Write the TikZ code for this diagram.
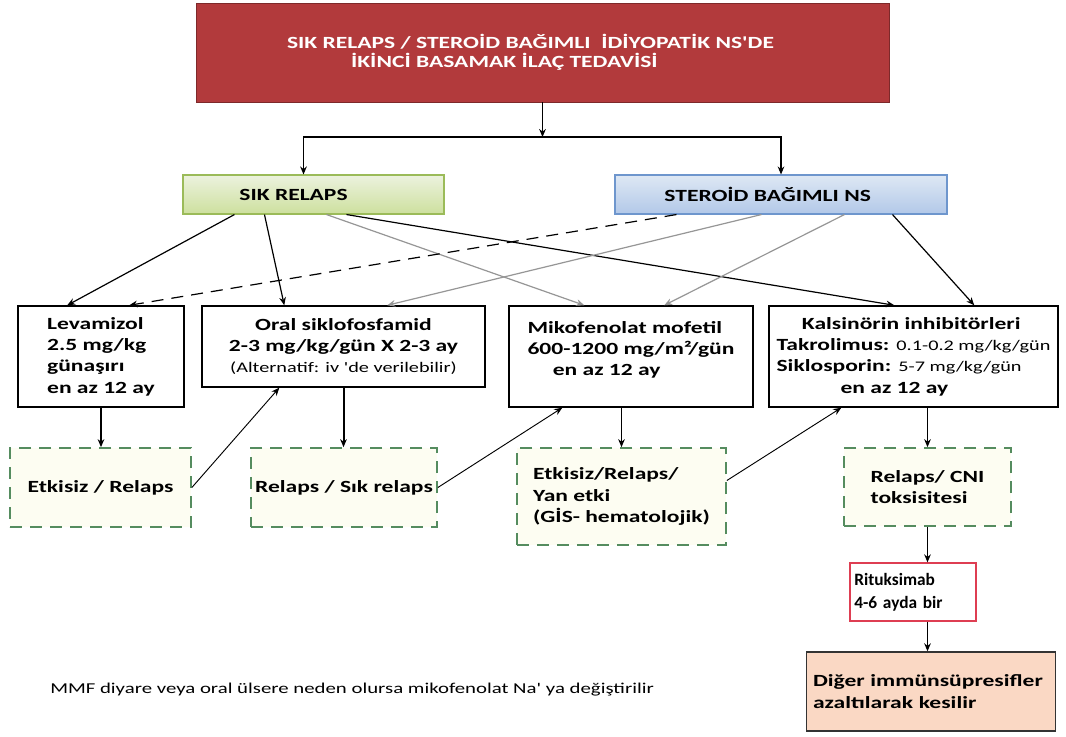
\documentclass[tikz,border=0pt]{standalone}
\usepackage{fontspec}
\setmainfont{Carlito}[FakeStretch=1.38, Ligatures=TeXOff]
\newfontfamily\rtxfam{Carlito}
\usetikzlibrary{arrows.meta, calc, positioning}
\definecolor{titlered}{RGB}{178,58,60}
\definecolor{srgreen}{RGB}{155,187,89}
\definecolor{srgreentop}{RGB}{236,242,222}
\definecolor{srgreenbot}{RGB}{205,224,158}
\definecolor{sdblue}{RGB}{110,150,205}
\definecolor{sdbluetop}{RGB}{222,232,244}
\definecolor{sdbluebot}{RGB}{178,200,232}
\definecolor{outgreen}{RGB}{85,140,95}
\definecolor{outfill}{RGB}{253,253,242}
\definecolor{rituxred}{RGB}{222,62,82}
\definecolor{digerfill}{RGB}{250,216,196}
\definecolor{linkgray}{RGB}{150,150,150}
\newcommand{\boxfont}{\fontsize{12.8}{16}\selectfont\bfseries}
\newcommand{\drugsmall}{\fontsize{11}{13}\selectfont\mdseries}
\newcommand{\notefont}{\fontsize{11.3}{13}\selectfont}
\newcommand{\rtxfont}{\rtxfam\fontsize{13}{17}\selectfont\bfseries}

\begin{document}
\begin{tikzpicture}[x=0.75pt, y=-0.75pt,
    titlebox/.style={draw=titlered!70!black, fill=titlered, text=white, font=\boxfont, align=left, minimum width=519.75pt, minimum height=74.25pt},
    levelbox/.style={draw=#1, line width=0.8pt, minimum height=29.25pt, font=\boxfont},
    drugbox/.style={draw=black, line width=1.1pt, fill=white, font=\boxfont, align=left, inner sep=2pt},
    outbox/.style={draw=outgreen, dash pattern=on 9pt off 6pt, line width=1.3pt, fill=outfill, font=\boxfont, align=left, inner sep=1pt},
    arr/.style={-{Stealth[length=6pt,width=5pt]}, line width=0.9pt},
    garr/.style={arr, linkgray}]
    \useasboundingbox (0,0) rectangle (1066,736);
    \fill[white] (0,0) rectangle (1066,736);

    % Title
    \node[titlebox, font=\fontsize{12.8}{14}\selectfont\bfseries] (title) at (542.5,52.5) {SIK RELAPS / STEROİD BAĞIMLI\ \ İDİYOPATİK NS'DE\hspace*{18pt}\\\hspace*{48pt}İKİNCİ BASAMAK İLAÇ TEDAVİSİ};

    % Two groups
    \node[levelbox=srgreen, top color=srgreentop, bottom color=srgreenbot, minimum width=195.75pt] (sikr) at (313.5,194.5) {SIK RELAPS\hspace*{30pt}};
    \node[levelbox=sdblue, top color=sdbluetop, bottom color=sdbluebot, minimum width=249pt] (sdns) at (781,194.5) {STEROİD BAĞIMLI NS\hspace*{20pt}};

    % Drugs
    \node[drugbox, minimum width=124.5pt, minimum height=75.75pt] (lev) at (101,356.5) {Levamizol\\2.5 mg/kg\\günaşırı\\en az 12 ay};
    \node[drugbox, align=center, minimum width=212.25pt, minimum height=60.75pt] (cyc) at (343.5,346.5) {Oral siklofosfamid\\2-3 mg/kg/gün X 2-3 ay\\{\drugsmall (Alternatif: iv 'de verilebilir)}};
    \node[drugbox, minimum width=183pt, minimum height=75.75pt] (mmf) at (631,356.5) {Mikofenolat mofetil\\600-1200 mg/m²/gün\\\hspace*{19pt}en az 12 ay\\[-4pt]\mbox{}};
    \node[drugbox, minimum width=216.75pt, minimum height=75.75pt] (cni) at (913.5,356.5) {\hspace*{19pt}Kalsinörin inhibitörleri\\Takrolimus: {\drugsmall 0.1-0.2 mg/kg/gün}\\Siklosporin: {\drugsmall 5-7 mg/kg/gün}\\\hspace*{48pt}en az 12 ay};

    % Outcomes
    \node[outbox, minimum width=135.75pt, minimum height=59.25pt] (r1) at (100.5,487.5) {Etkisiz / Relaps};
    \node[outbox, minimum width=139.5pt, minimum height=59.25pt] (r2) at (344,487.5) {Relaps / Sık relaps};
    \node[outbox, minimum width=156.75pt, minimum height=72.75pt] (r3) at (621.5,496.5) {Etkisiz/Relaps/\\Yan etki\\(GİS- hematolojik)};
    \node[outbox, minimum width=125.25pt, minimum height=58.5pt] (r4) at (927.5,487) {Relaps/ CNI\\toksisitesi};

    % Last steps
    \node[draw=rituxred, line width=1pt, fill=white, font=\rtxfont, align=left, text width=88pt, inner xsep=3.25pt, minimum height=43.5pt] (rtx) at (913,592) {Rituksimab\\4-6 ayda bir};
    \node[draw=black!80, line width=1.1pt, fill=digerfill, font=\boxfont, align=left, text width=177pt, inner xsep=5pt, minimum height=59.25pt] (diger) at (931,691.5) {Diğer immünsüpresifler\\azaltılarak kesilir};

    % Note
    \node[anchor=west, font=\notefont, inner sep=0pt] (note) at (50,690) {MMF diyare veya oral ülsere neden olursa mikofenolat Na' ya değiştirilir};

    % Title to groups
    \coordinate (bar) at (542.5,137);
    \draw[arr] (title.south) -- (bar);
    \draw[arr] (bar) -| ($(sikr.north)+(-10,0)$);
    \draw[arr] (bar) -| (sdns.north);

    % Groups to drugs
    \draw[arr] ($(sikr.south west)+(52,0)$) -- ($(lev.north west)+(50,0)$);
    \draw[arr] ($(sikr.south west)+(82,0)$) -- ($(cyc.north west)+(83,0)$);
    \draw[garr] ($(sikr.south west)+(144,0)$) -- ($(mmf.north west)+(76,0)$);
    \draw[arr] ($(sikr.south west)+(164,0)$) -- ($(cni.north west)+(126,0)$);
    \draw[arr, dash pattern=on 9pt off 6pt] ($(sdns.south west)+(62,0)$) -- ($(lev.north west)+(112,0)$);
    \draw[garr] ($(sdns.south west)+(147,0)$) -- ($(cyc.north west)+(186,0)$);
    \draw[garr] ($(sdns.south west)+(230,0)$) -- ($(mmf.north west)+(156,0)$);
    \draw[arr] ($(sdns.south west)+(278,0)$) -- ($(cni.north west)+(206,0)$);

    % Drugs to outcomes
    \draw[arr] (lev.south) -- (lev.south |- r1.north);
    \draw[arr, line width=1.5pt] (cyc.south) -- (cyc.south |- r2.north);
    \draw[arr] (r3.north |- mmf.south) -- (r3.north);
    \draw[arr] (r4.north |- cni.south) -- (r4.north);

    % Outcomes back to next drug
    \draw[arr, line width=0.7pt] (r1.east) -- ($(cyc.south west)+(78,0)$);
    \draw[arr, line width=0.7pt] (r2.east) -- ($(mmf.south west)+(54,0)$);
    \draw[arr, line width=0.7pt] ($(r3.east)+(0,-16)$) -- ($(cni.south west)+(73,0)$);

    % Rituximab and taper
    \draw[arr] (r4.south) -- (r4.south |- rtx.north);
    \draw[arr] (r4.south |- rtx.south) -- (r4.south |- diger.north);
\end{tikzpicture}
\end{document}
